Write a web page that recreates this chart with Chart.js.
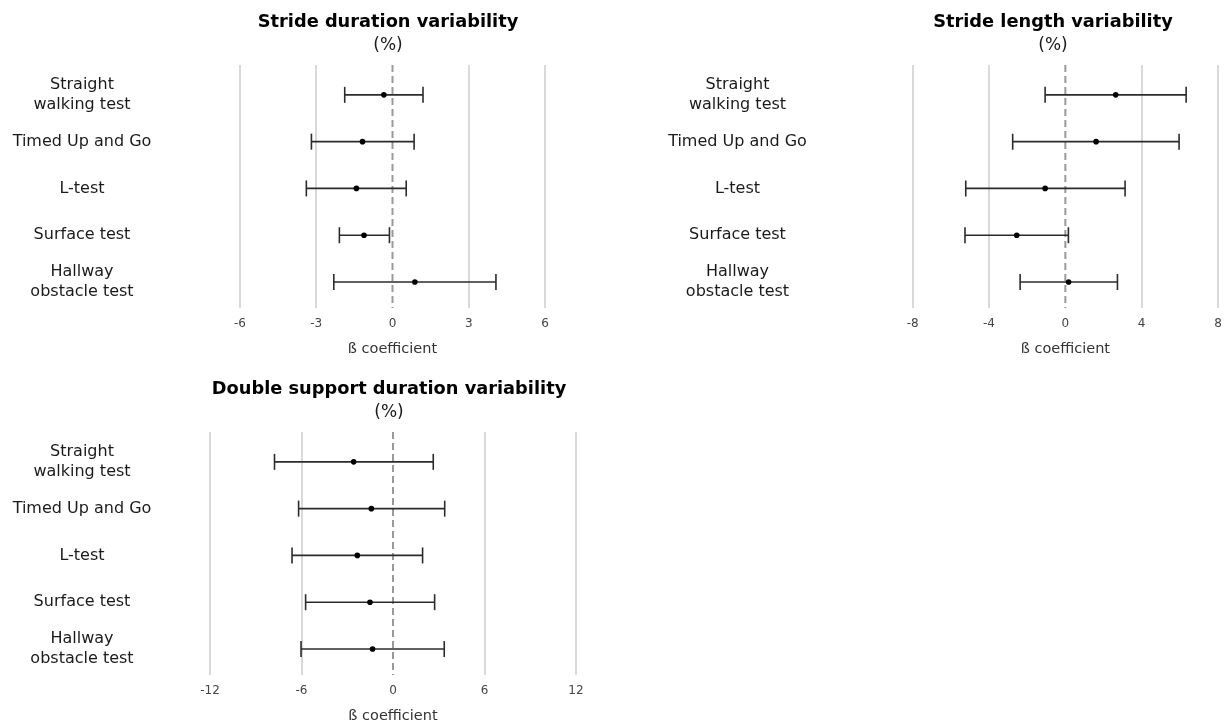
<!DOCTYPE html>
<html>
<head>
<meta charset="utf-8">
<script src="https://cdn.jsdelivr.net/npm/chart.js@4.4.0/dist/chart.umd.min.js"></script>
<style>
    html, body { margin: 0; padding: 0; background: #fff; overflow: hidden; width: 1226px; height: 727px; }
    .panel { position: absolute; }
</style>
</head>
<body>
<div class="panel" style="left:0px; top:0px; width:560px; height:361px;"><canvas id="strideDuration"></canvas></div>
<div class="panel" style="left:650px; top:0px; width:600px; height:361px;"><canvas id="strideLength"></canvas></div>
<div class="panel" style="left:0px; top:367px; width:600px; height:361px;"><canvas id="doubleSupport"></canvas></div>
<script>
"use strict";
// Test names (y categories), top to bottom
const categories = [
    ['Straight', 'walking test'],
    ['Timed Up and Go'],
    ['L-test'],
    ['Surface test'],
    ['Hallway', 'obstacle test']
];

// Stride duration variability (%)
const strideDurationEst  = [-0.34, -1.18, -1.42, -1.12, 0.88];
const strideDurationLow  = [-1.88, -3.19, -3.39, -2.09, -2.31];
const strideDurationHigh = [1.20, 0.85, 0.54, -0.12, 4.07];
const strideDurationTicks = [-6, -3, 0, 3, 6];

// Stride length variability (%)
const strideLengthEst  = [2.64, 1.61, -1.06, -2.55, 0.17];
const strideLengthLow  = [-1.06, -2.76, -5.22, -5.26, -2.37];
const strideLengthHigh = [6.33, 5.96, 3.13, 0.16, 2.73];
const strideLengthTicks = [-8, -4, 0, 4, 8];

// Double support duration variability (%)
const doubleSupportEst  = [-2.58, -1.42, -2.34, -1.51, -1.34];
const doubleSupportLow  = [-7.77, -6.19, -6.62, -5.73, -6.03];
const doubleSupportHigh = [2.64, 3.39, 1.94, 2.73, 3.36];
const doubleSupportTicks = [-12, -6, 0, 6, 12];

Chart.defaults.font.family = "'DejaVu Sans', Verdana, sans-serif";

// dashed reference line at 0 + centred test names on the left
const forestPlugin = {
    id: 'forest',
    beforeDatasetsDraw(chart) {
        const ctx = chart.ctx;
        const area = chart.chartArea;
        const x0 = chart.scales.x.getPixelForValue(0);
        ctx.save();
        ctx.strokeStyle = '#999999';
        ctx.lineWidth = 2;
        ctx.setLineDash([7, 4]);
        ctx.beginPath();
        ctx.moveTo(x0, area.top);
        ctx.lineTo(x0, area.bottom);
        ctx.stroke();
        ctx.restore();
    },
    afterDraw(chart, args, opts) {
        const ctx = chart.ctx;
        const yScale = chart.scales.y;
        ctx.save();
        ctx.font = "16px 'DejaVu Sans', Verdana, sans-serif";
        ctx.fillStyle = '#1a1a1a';
        ctx.textAlign = 'center';
        ctx.textBaseline = 'middle';
        categories.forEach((lines, i) => {
            const yc = yScale.getPixelForValue(i);
            lines.forEach((line, j) => {
                ctx.fillText(line, opts.labelX, yc + (j - (lines.length - 1) / 2) * 20);
            });
        });
        ctx.restore();
    }
};

// padLeft puts the title centre where the reference has it; axisWidth then brings the plot to its left edge
function makePanel(id, title, est, low, high, ticks, padLeft, axisWidth, padRight, labelX) {
    const datasets = [{
        type: 'scatter',
        data: est.map((v, i) => ({ x: v, y: i })),
        backgroundColor: '#000',
        borderColor: '#000',
        pointRadius: 2.8,
        borderWidth: 0
    }];
    // one whisker per test: line from low to high with vertical caps
    low.forEach((lo, i) => {
        datasets.push({
            type: 'line',
            data: [{ x: lo, y: i }, { x: high[i], y: i }],
            borderColor: '#2b2b2b',
            borderWidth: 1.6,
            pointStyle: 'line',
            pointRotation: 90,
            pointRadius: 8,
            pointBorderColor: '#2b2b2b',
            pointBorderWidth: 1.6
        });
    });

    new Chart(document.getElementById(id), {
        type: 'scatter',
        data: { datasets: datasets },
        options: {
            responsive: true,
            maintainAspectRatio: false,
            animation: false,
            events: [],
            layout: { padding: { left: padLeft, right: padRight, top: 0, bottom: 0 } },
            plugins: {
                legend: { display: false },
                tooltip: { enabled: false },
                title: {
                    display: true,
                    text: title,
                    color: '#000',
                    font: { size: 17.8, weight: 'bold' },
                    padding: { top: 11.3, bottom: 0 }
                },
                subtitle: {
                    display: true,
                    text: '(%)',
                    color: '#1a1a1a',
                    font: { size: 17 },
                    padding: { top: 3, bottom: 9 }
                },
                forest: { labelX: labelX }
            },
            scales: {
                x: {
                    type: 'linear',
                    min: ticks[0],
                    max: ticks[ticks.length - 1],
                    afterBuildTicks: scale => { scale.ticks = ticks.map(v => ({ value: v })); },
                    afterFit: scale => { scale.height = 53; },
                    ticks: { color: '#444', font: { size: 12 }, padding: 8.3 },
                    grid: {
                        color: ctx => (ctx.tick && ctx.tick.value === 0) ? 'rgba(0,0,0,0)' : '#d9d9d9',
                        lineWidth: 2,
                        drawTicks: false
                    },
                    border: { display: false },
                    title: {
                        display: true,
                        text: 'ß coefficient',
                        color: '#333',
                        font: { size: 14.5 },
                        padding: { top: 9.6, bottom: 3.3 }
                    }
                },
                y: {
                    type: 'linear',
                    reverse: true,
                    min: -0.637,
                    max: 4.556,
                    ticks: { display: false },
                    grid: { display: false },
                    border: { display: false },
                    afterFit: scale => { scale.width = axisWidth; }
                }
            }
        },
        plugins: [forestPlugin]
    });
}

makePanel('strideDuration', 'Stride duration variability',
    strideDurationEst, strideDurationLow, strideDurationHigh, strideDurationTicks, 231, 9, 15, 82);
makePanel('strideLength', 'Stride length variability',
    strideLengthEst, strideLengthLow, strideLengthHigh, strideLengthTicks, 238, 24.7, 32, 87.5);
makePanel('doubleSupport', 'Double support duration variability',
    doubleSupportEst, doubleSupportLow, doubleSupportHigh, doubleSupportTicks, 202, 8, 24, 82);
</script>
</body>
</html>
